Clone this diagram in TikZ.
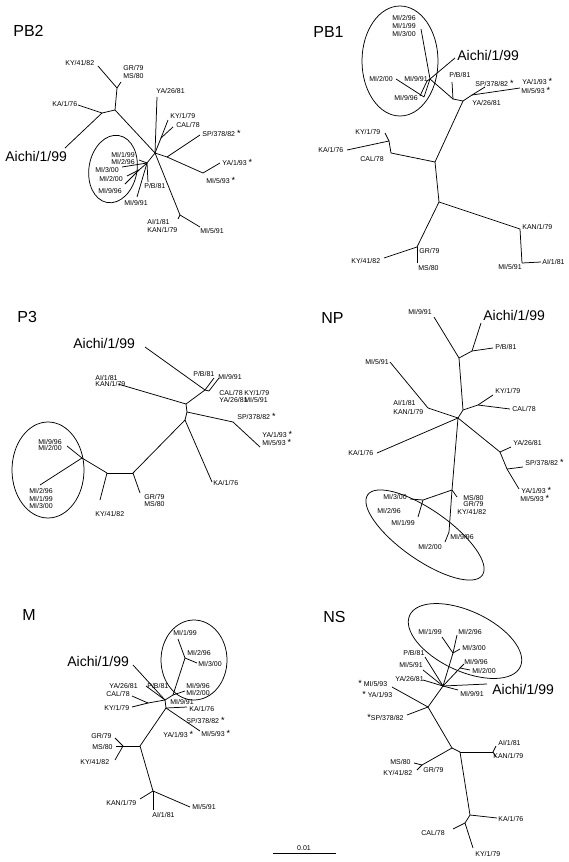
\documentclass[tikz,border=0pt]{standalone}
\usepackage{fontspec}
\setmainfont{Liberation Sans}
\newcommand{\astk}{{\fontsize{9}{9}\selectfont *}}
\begin{document}
\begin{tikzpicture}[x=1pt, y=-1pt, line width=0.75pt,
  lbl/.style={font=\fontsize{7}{7}\selectfont, inner sep=0pt, anchor=west},
  big/.style={font=\fontsize{14}{14}\selectfont, inner sep=0pt, anchor=west},
  ttl/.style={font=\fontsize{16}{16}\selectfont, inner sep=0pt, anchor=west}]
\useasboundingbox (0,0) rectangle (569,862);

%Arbre PB2
\node[ttl] (aT) at (13,31) {PB2};
\coordinate (a1) at (117,88);
\coordinate (a2) at (115,110);
\coordinate (a3) at (102,113);
\coordinate (a4) at (155,153);
\coordinate (a5) at (161,138);
\coordinate (a6) at (147,163);
\coordinate (a7) at (139,170);
\coordinate (a8) at (167,157);
\coordinate (a9) at (203,173);
\coordinate (a10) at (180,215);
\coordinate (aKY41) at (98,66);
\coordinate (aGR) at (121,82);
\coordinate (aKA) at (78,105);
\coordinate (aAichi) at (65,148);
\coordinate (aYA26) at (157,97);
\coordinate (aKY1) at (168,120);
\coordinate (aCAL) at (173,127);
\coordinate (aSP) at (200,135);
\coordinate (aYA1) at (220,163);
\coordinate (aMI199) at (139,160);
\coordinate (aMI300) at (122,167);
\coordinate (aMI200) at (127,176);
\coordinate (aMI996) at (125,184);
\coordinate (aPB) at (148,182);
\coordinate (aMI991) at (137,197);
\coordinate (aAI) at (178,219);
\coordinate (aMI591) at (200,227);
\coordinate (aE) at (113,169);
\node[lbl] (laKY41) at (65,63) {KY/41/82};
\node[lbl] (laGR) at (123,68) {GR/79};
\node[lbl] (laMS) at (123,76) {MS/80};
\node[lbl] (laKA) at (52,104) {KA/1/76};
\node[big] (laAichi) at (5,156) {Aichi/1/99};
\node[lbl] (laYA26) at (156,91) {YA/26/81};
\node[lbl] (laKY1) at (170,116) {KY/1/79};
\node[lbl] (laCAL) at (176,125) {CAL/78};
\node[lbl] (laSP) at (202,133) {SP/378/82 \astk};
\node[lbl] (laYA1) at (222,162) {YA/1/93 \astk};
\node[lbl] (laMI593) at (206,180) {MI/5/93 \astk};
\node[lbl] (laMI199) at (111,155) {MI/1/99};
\node[lbl] (laMI296) at (111,162) {MI/2/96};
\node[lbl] (laMI300) at (95,170) {MI/3/00};
\node[lbl] (laMI200) at (99,179) {MI/2/00};
\node[lbl] (laMI996) at (98,191) {MI/9/96};
\node[lbl] (laPB) at (144,186) {P/B/81};
\node[lbl] (laMI991) at (124,203) {MI/9/91};
\node[lbl] (laAI) at (147,222) {AI/1/81};
\node[lbl] (laKAN) at (147,230) {KAN/1/79};
\node[lbl] (laMI591) at (200,231) {MI/5/91};
\draw[rotate around={-10:(aE)}] (aE) ellipse (24pt and 34pt);
\draw (a1) -- (aKY41);
\draw (a1) -- (aGR);
\draw (a1) -- (a2);
\draw (a2) -- (a3);
\draw (a3) -- (aKA);
\draw (a3) -- (aAichi);
\draw (a2) -- (a4);
\draw (a4) -- (aYA26);
\draw (a4) -- (a5);
\draw (a5) -- (aKY1);
\draw (a5) -- (aCAL);
\draw (a4) -- (a8);
\draw (a8) -- (aSP);
\draw (a8) -- (a9);
\draw (a9) -- (aYA1);
\draw (a4) -- (a6);
\draw (a6) -- (aMI199);
\draw (a6) -- (aMI300);
\draw (a6) -- (a7);
\draw (a7) -- (aMI200);
\draw (a7) -- (aMI996);
\draw (a6) -- (aPB);
\draw (a6) -- (aMI991);
\draw (a4) -- (a10);
\draw (a10) -- (aAI);
\draw (a10) -- (aMI591);

%Arbre PB1
\node[ttl] (bT) at (313,32) {PB1};
\coordinate (b1) at (430,79);
\coordinate (b1a) at (427,81);
\coordinate (b2) at (424,97);
\coordinate (b3) at (453,99);
\coordinate (b4) at (463,101);
\coordinate (b5) at (472,95);
\coordinate (b6) at (435,162);
\coordinate (b7) at (391,153);
\coordinate (b8) at (389,141);
\coordinate (b9) at (439,202);
\coordinate (b10) at (520,229);
\coordinate (b11) at (522,263);
\coordinate (b12) at (417,247);
\coordinate (bAichi) at (455,58);
\coordinate (bMI296) at (421,29);
\coordinate (bMI200) at (396,79);
\coordinate (bMI996) at (420,96);
\coordinate (bPB) at (452,82);
\coordinate (bSP) at (485,87);
\coordinate (bYA1) at (520,88);
\coordinate (bKY1) at (385,133);
\coordinate (bKA) at (347,150);
\coordinate (bAI) at (541,262);
\coordinate (bKY41) at (384,258);
\coordinate (bMS) at (417,263);
\coordinate (bE) at (400,61);
\node[lbl] (lbMI296) at (392,18) {MI/2/96};
\node[lbl] (lbMI199) at (392,26) {MI/1/99};
\node[lbl] (lbMI300) at (392,34) {MI/3/00};
\node[big] (lbAichi) at (457,55) {Aichi/1/99};
\node[lbl] (lbMI200) at (369,79) {MI/2/00};
\node[lbl] (lbMI991) at (404,79) {MI/9/91};
\node[lbl] (lbMI996) at (394,98) {MI/9/96};
\node[lbl] (lbPB) at (449,75) {P/B/81};
\node[lbl] (lbSP) at (475,83) {SP/378/82 \astk};
\node[lbl] (lbYA1) at (522,81) {YA/1/93 \astk};
\node[lbl] (lbMI593) at (521,90) {MI/5/93 \astk};
\node[lbl] (lbYA26) at (472,103) {YA/26/81};
\node[lbl] (lbKY1) at (355,132) {KY/1/79};
\node[lbl] (lbKA) at (318,150) {KA/1/76};
\node[lbl] (lbCAL) at (360,159) {CAL/78};
\node[lbl] (lbKAN) at (522,227) {KAN/1/79};
\node[lbl] (lbMI591) at (498,267) {MI/5/91};
\node[lbl] (lbAI) at (542,262) {AI/1/81};
\node[lbl] (lbGR) at (419,251) {GR/79};
\node[lbl] (lbMS) at (418,268) {MS/80};
\node[lbl] (lbKY41) at (351,261) {KY/41/82};
\draw (bE) ellipse (38pt and 55pt);
\draw (b1) -- (bAichi);
\draw (b1) -- (bMI296);
\draw (b1) -- (b2);
\draw (b2) -- (bMI200);
\draw (b1) -- (b1a);
\draw (b1a) -- (bMI996);
\draw (b1) -- (b3);
\draw (b3) -- (bPB);
\draw (b3) -- (b4);
\draw (b4) -- (b5);
\draw (b5) -- (bSP);
\draw (b5) -- (bYA1);
\draw (b4) -- (b6);
\draw (b6) -- (b7);
\draw (b7) -- (b8);
\draw (b8) -- (bKY1);
\draw (b8) -- (bKA);
\draw (b6) -- (b9);
\draw (b9) -- (b10);
\draw (b10) -- (b11);
\draw (b11) -- (bAI);
\draw (b9) -- (b12);
\draw (b12) -- (bMS);
\draw (b12) -- (bKY41);

%Arbre P3
\node[ttl] (cT) at (17,317) {P3};
\coordinate (c1) at (205,390);
\coordinate (c1a) at (209,391);
\coordinate (c2) at (186,404);
\coordinate (c3) at (187,412);
\coordinate (c4) at (233,422);
\coordinate (c5) at (185,420);
\coordinate (c6) at (133,473);
\coordinate (c7) at (107,473);
\coordinate (c8) at (82,458);
\coordinate (cAichi) at (145,347);
\coordinate (cPB) at (214,378);
\coordinate (cMI991) at (219,378);
\coordinate (cAI) at (118,384);
\coordinate (cYA1) at (260,447);
\coordinate (cKA) at (212,482);
\coordinate (cGR) at (140,493);
\coordinate (cKY41) at (100,500);
\coordinate (cMI996) at (67,446);
\coordinate (cMI296) at (40,485);
\coordinate (cE) at (48,470);
\node[big] (lcAichi) at (73,343) {Aichi/1/99};
\node[lbl] (lcPB) at (193,374) {P/B/81};
\node[lbl] (lcMI991) at (218,377) {MI/9/91};
\node[lbl] (lcCAL) at (219,393) {CAL/78};
\node[lbl] (lcKY1) at (244,393) {KY/1/79};
\node[lbl] (lcYA26) at (219,400) {YA/26/81};
\node[lbl] (lcMI591) at (244,400) {MI/5/91};
\node[lbl] (lcAI) at (95,378) {AI/1/81};
\node[lbl] (lcKAN) at (95,384) {KAN/1/79};
\node[lbl] (lcSP) at (237,416) {SP/378/82 \astk};
\node[lbl] (lcYA1) at (262,434) {YA/1/93 \astk};
\node[lbl] (lcMI593) at (262,442) {MI/5/93 \astk};
\node[lbl] (lcKA) at (213,483) {KA/1/76};
\node[lbl] (lcGR) at (144,497) {GR/79};
\node[lbl] (lcMS) at (144,504) {MS/80};
\node[lbl] (lcKY41) at (95,514) {KY/41/82};
\node[lbl] (lcMI996) at (38,442) {MI/9/96};
\node[lbl] (lcMI200) at (38,448) {MI/2/00};
\node[lbl] (lcMI296) at (29,491) {MI/2/96};
\node[lbl] (lcMI199) at (29,499) {MI/1/99};
\node[lbl] (lcMI300) at (29,506) {MI/3/00};
\draw (cE) ellipse (36pt and 48pt);
\draw (cAichi) -- (c1);
\draw (c1) -- (cPB);
\draw (c1) -- (c1a);
\draw (c1a) -- (cMI991);
\draw (c1) -- (c2);
\draw (c2) -- (cAI);
\draw (c2) -- (c3);
\draw (c3) -- (c4);
\draw (c4) -- (cYA1);
\draw (c3) -- (c5);
\draw (c5) -- (cKA);
\draw (c5) -- (c6);
\draw (c6) -- (cGR);
\draw (c6) -- (c7);
\draw (c7) -- (cKY41);
\draw (c7) -- (c8);
\draw (c8) -- (cMI996);
\draw (c8) -- (cMI296);

%Arbre NP
\node[ttl] (dT) at (321,318) {NP};
\coordinate (d1) at (472,351);
\coordinate (d2) at (459,358);
\coordinate (d3) at (463,410);
\coordinate (d4) at (478,405);
\coordinate (d5) at (458,418);
\coordinate (d6) at (428,408);
\coordinate (d7) at (500,452);
\coordinate (d8) at (507,469);
\coordinate (d9) at (452,490);
\coordinate (d10) at (423,500);
\coordinate (d11) at (449,532);
\coordinate (dAichi) at (481,323);
\coordinate (dPB) at (493,348);
\coordinate (dMI991) at (434,317);
\coordinate (dKY1) at (493,395);
\coordinate (dCAL) at (510,409);
\coordinate (dMI591) at (390,362);
\coordinate (dKA) at (377,453);
\coordinate (dYA26) at (511,447);
\coordinate (dSP) at (523,467);
\coordinate (dYA1) at (519,489);
\coordinate (dMI300) at (410,499);
\coordinate (dMI199) at (418,517);
\coordinate (dMS) at (457,497);
\coordinate (dMI200) at (445,542);
\coordinate (dE) at (425,535);
\node[big] (ldAichi) at (483,315) {Aichi/1/99};
\node[lbl] (ldMI991) at (408,312) {MI/9/91};
\node[lbl] (ldPB) at (495,347) {P/B/81};
\node[lbl] (ldKY1) at (495,391) {KY/1/79};
\node[lbl] (ldCAL) at (512,409) {CAL/78};
\node[lbl] (ldMI591) at (365,362) {MI/5/91};
\node[lbl] (ldAI) at (393,403) {AI/1/81};
\node[lbl] (ldKAN) at (393,412) {KAN/1/79};
\node[lbl] (ldKA) at (348,453) {KA/1/76};
\node[lbl] (ldYA26) at (513,443) {YA/26/81};
\node[lbl] (ldSP) at (525,462) {SP/378/82 \astk};
\node[lbl] (ldYA1) at (521,490) {YA/1/93 \astk};
\node[lbl] (ldMI593) at (520,498) {MI/5/93 \astk};
\node[lbl] (ldMI300) at (383,497) {MI/3/00};
\node[lbl] (ldMI296) at (377,511) {MI/2/96};
\node[lbl] (ldMI199) at (391,523) {MI/1/99};
\node[lbl] (ldMS) at (463,498) {MS/80};
\node[lbl] (ldGR) at (463,504) {GR/79};
\node[lbl] (ldKY41) at (457,512) {KY/41/82};
\node[lbl] (ldMI996) at (450,537) {MI/9/96};
\node[lbl] (ldMI200) at (418,547) {MI/2/00};
\draw[rotate around={-35:(dE)}] (dE) ellipse (70pt and 25pt);
\draw (d1) -- (dAichi);
\draw (d1) -- (dPB);
\draw (d1) -- (d2);
\draw (d2) -- (dMI991);
\draw (d2) -- (d3);
\draw (d3) -- (d4);
\draw (d4) -- (dKY1);
\draw (d4) -- (dCAL);
\draw (d3) -- (d5);
\draw (d5) -- (d6);
\draw (d6) -- (dMI591);
\draw (d5) -- (dKA);
\draw (d5) -- (d7);
\draw (d7) -- (dYA26);
\draw (d7) -- (d8);
\draw (d8) -- (dSP);
\draw (d8) -- (dYA1);
\draw (d5) -- (d9);
\draw (d9) -- (d10);
\draw (d10) -- (dMI300);
\draw (d10) -- (dMI199);
\draw (d9) -- (dMS);
\draw (d9) -- (d11);
\draw (d11) -- (dMI200);

%Arbre M
\node[ttl] (eT) at (22,615) {M};
\coordinate (e1) at (185,658);
\coordinate (e2) at (173,695);
\coordinate (e3) at (165,700);
\coordinate (e4) at (148,703);
\coordinate (e5) at (166,708);
\coordinate (e6) at (140,746);
\coordinate (e7) at (123,746);
\coordinate (e8) at (153,791);
\coordinate (eMI199) at (178,639);
\coordinate (eMI300) at (197,663);
\coordinate (eMI996) at (185,691);
\coordinate (eAichi) at (133,665);
\coordinate (ePB) at (146,686);
\coordinate (eCAL) at (132,696);
\coordinate (eKY1) at (132,707);
\coordinate (eKA) at (187,707);
\coordinate (eMI593) at (200,731);
\coordinate (eGR) at (115,738);
\coordinate (eMS) at (116,746);
\coordinate (eKY41) at (115,760);
\coordinate (eKAN) at (140,799);
\coordinate (eAI) at (153,810);
\coordinate (eMI591) at (190,807);
\coordinate (eE) at (194,660);
\node[lbl] (leMI199) at (173,633) {MI/1/99};
\node[lbl] (leMI296) at (187,653) {MI/2/96};
\node[lbl] (leMI300) at (198,664) {MI/3/00};
\node[big] (leAichi) at (67,661) {Aichi/1/99};
\node[lbl] (leYA26) at (109,686) {YA/26/81};
\node[lbl] (lePB) at (147,686) {P/B/81};
\node[lbl] (leCAL) at (106,694) {CAL/78};
\node[lbl] (leKY1) at (104,708) {KY/1/79};
\node[lbl] (leMI996) at (186,686) {MI/9/96};
\node[lbl] (leMI200) at (186,693) {MI/2/00};
\node[lbl] (leMI991) at (170,702) {MI/9/91};
\node[lbl] (leKA) at (189,709) {KA/1/76};
\node[lbl] (leSP) at (186,720) {SP/378/82 \astk};
\node[lbl] (leYA1) at (163,734) {YA/1/93 \astk};
\node[lbl] (leMI593) at (201,733) {MI/5/93 \astk};
\node[lbl] (leGR) at (91,736) {GR/79};
\node[lbl] (leMS) at (92,747) {MS/80};
\node[lbl] (leKY41) at (80,762) {KY/41/82};
\node[lbl] (leKAN) at (106,803) {KAN/1/79};
\node[lbl] (leAI) at (152,815) {AI/1/81};
\node[lbl] (leMI591) at (192,807) {MI/5/91};
\draw (eE) ellipse (33pt and 40pt);
\draw (e1) -- (eMI199);
\draw (e1) -- (eMI300);
\draw (e1) -- (e2);
\draw (e2) -- (eMI996);
\draw (e2) -- (e3);
\draw (eAichi) -- (e3);
\draw (ePB) -- (e3);
\draw (e3) -- (e4);
\draw (e4) -- (eCAL);
\draw (e4) -- (eKY1);
\draw (e3) -- (e5);
\draw (e5) -- (eKA);
\draw (e5) -- (eMI593);
\draw (e5) -- (e6);
\draw (e6) -- (e7);
\draw (e7) -- (eGR);
\draw (e7) -- (eMS);
\draw (e7) -- (eKY41);
\draw (e6) -- (e8);
\draw (e8) -- (eKAN);
\draw (e8) -- (eAI);
\draw (e8) -- (eMI591);

%Arbre NS
\node[ttl] (fT) at (323,617) {NS};
\coordinate (f1) at (453,653);
\coordinate (f2) at (443,686);
\coordinate (f3) at (460,668);
\coordinate (f4) at (428,707);
\coordinate (f5) at (452,748);
\coordinate (f6) at (460,752);
\coordinate (f7) at (422,765);
\coordinate (f8) at (470,815);
\coordinate (f9) at (465,823);
\coordinate (f10) at (493,752);
\coordinate (fMI199) at (442,637);
\coordinate (fMI296) at (457,635);
\coordinate (fMI300) at (460,649);
\coordinate (fMI996) at (464,664);
\coordinate (fMI200) at (470,670);
\coordinate (fAichi) at (487,684);
\coordinate (fPB) at (425,657);
\coordinate (fMI591) at (423,670);
\coordinate (fYA26) at (423,680);
\coordinate (fMI991) at (458,690);
\coordinate (fMI593) at (392,687);
\coordinate (fSP) at (407,715);
\coordinate (fAI) at (496,746);
\coordinate (fKAN) at (496,757);
\coordinate (fMS) at (414,763);
\coordinate (fKY41) at (417,770);
\coordinate (fKA) at (497,818);
\coordinate (fCAL) at (453,829);
\coordinate (fKY1) at (473,848);
\coordinate (fE) at (465,641);
\node[lbl] (lfMI199) at (418,632) {MI/1/99};
\node[lbl] (lfMI296) at (458,632) {MI/2/96};
\node[lbl] (lfMI300) at (462,648) {MI/3/00};
\node[lbl] (lfMI996) at (464,662) {MI/9/96};
\node[lbl] (lfMI200) at (472,671) {MI/2/00};
\node[big] (lfAichi) at (492,689) {Aichi/1/99};
\node[lbl] (lfPB) at (403,653) {P/B/81};
\node[lbl] (lfMI591) at (399,665) {MI/5/91};
\node[lbl] (lfYA26) at (395,679) {YA/26/81};
\node[lbl] (lfMI991) at (460,694) {MI/9/91};
\node[lbl] (lfMI593) at (358,683) {\astk\ MI/5/93};
\node[lbl] (lfYA1) at (362,694) {\astk\ YA/1/93};
\node[lbl] (lfSP) at (367,717) {\astk SP/378/82};
\node[lbl] (lfAI) at (498,743) {AI/1/81};
\node[lbl] (lfKAN) at (493,756) {KAN/1/79};
\node[lbl] (lfMS) at (390,762) {MS/80};
\node[lbl] (lfKY41) at (383,773) {KY/41/82};
\node[lbl] (lfGR) at (423,770) {GR/79};
\node[lbl] (lfKA) at (498,819) {KA/1/76};
\node[lbl] (lfCAL) at (421,833) {CAL/78};
\node[lbl] (lfKY1) at (475,854) {KY/1/79};
\draw[rotate around={-25:(fE)}] (fE) ellipse (61pt and 30pt);
\draw (f1) -- (fMI199);
\draw (f1) -- (fMI296);
\draw (f1) -- (fMI300);
\draw (f1) -- (f2);
\draw (f2) -- (f3);
\draw (f3) -- (fMI996);
\draw (f3) -- (fMI200);
\draw (f2) -- (fAichi);
\draw (f2) -- (fPB);
\draw (f2) -- (fMI591);
\draw (f2) -- (fYA26);
\draw (f2) -- (fMI991);
\draw (f2) -- (f4);
\draw (f4) -- (fMI593);
\draw (f4) -- (fSP);
\draw (f4) -- (f5);
\draw (f5) -- (f6);
\draw (f6) -- (f10);
\draw (f10) -- (fAI);
\draw (f10) -- (fKAN);
\draw (f5) -- (f7);
\draw (f7) -- (fMS);
\draw (f7) -- (fKY41);
\draw (f6) -- (f8);
\draw (f8) -- (fKA);
\draw (f8) -- (f9);
\draw (f9) -- (fCAL);
\draw (f9) -- (fKY1);

%Echelle
\coordinate (sL) at (273,853);
\coordinate (sR) at (336,853);
\node[lbl, anchor=center] (sT) at (304,848) {0.01};
\draw (sL) -- (sR);
\end{tikzpicture}
\end{document}
